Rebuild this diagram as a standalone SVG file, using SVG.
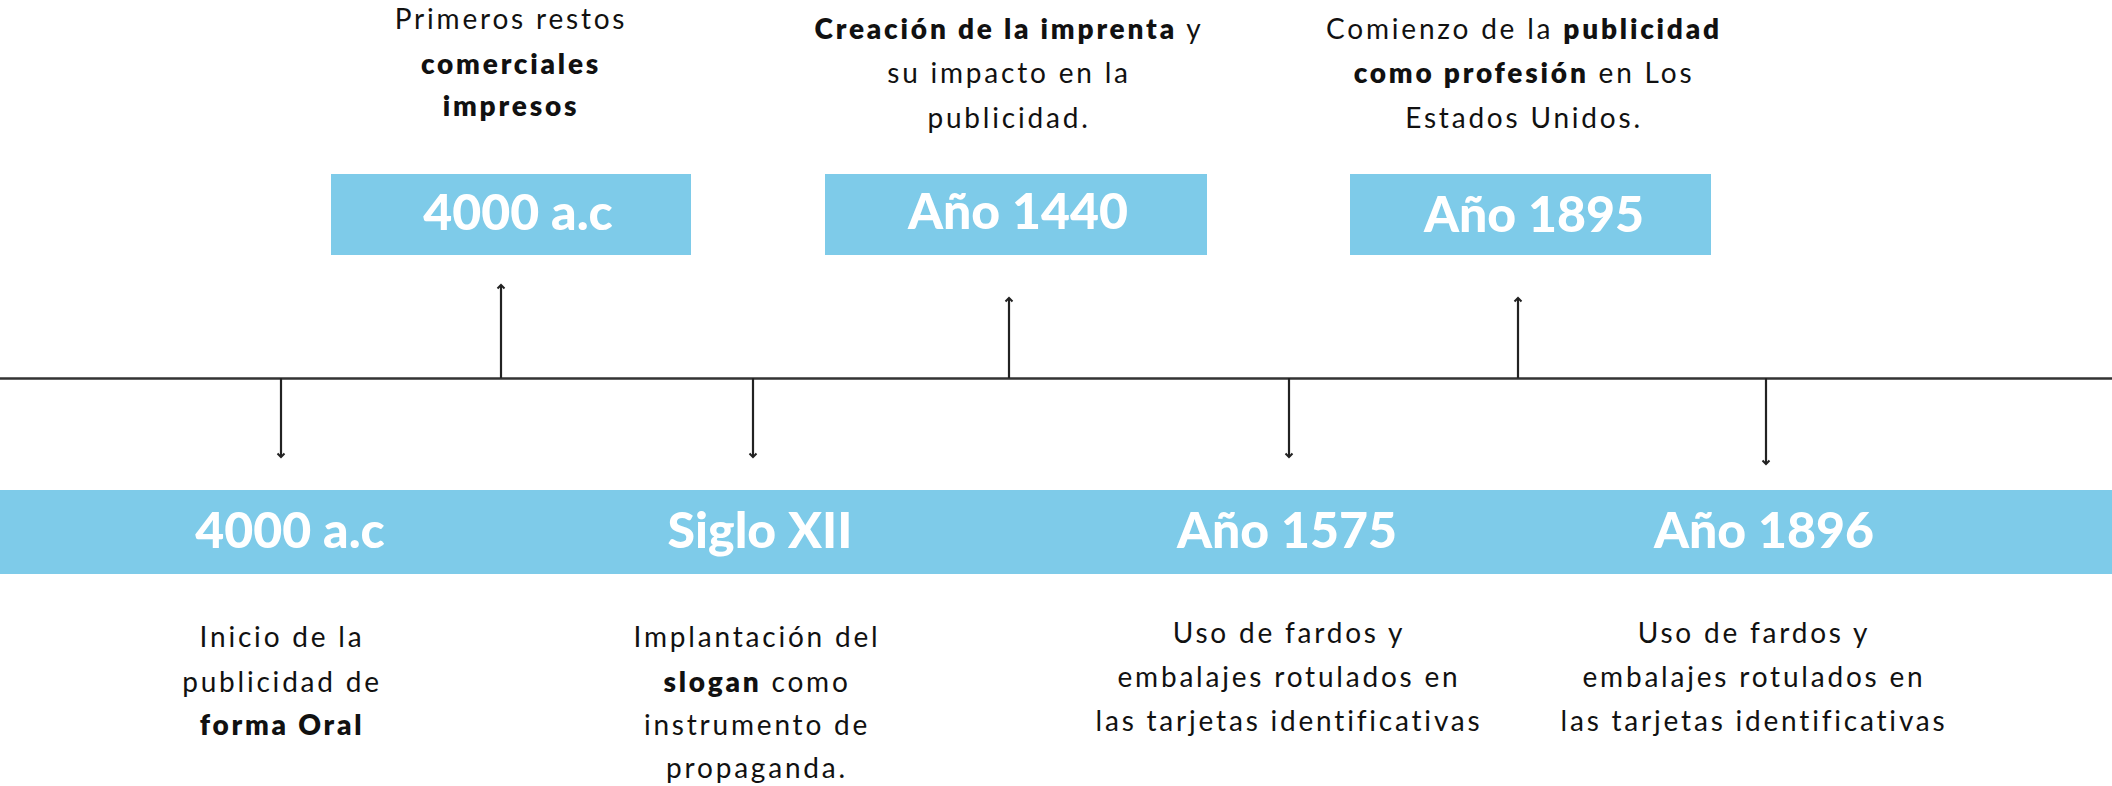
<svg xmlns="http://www.w3.org/2000/svg" width="2112" height="786" viewBox="0 0 2112 786">
<defs>
<style>
.box{fill:#7ecbe9}
.lbl{font-family:Lato,"Liberation Sans",sans-serif;font-weight:900;font-size:50px;fill:#fff;text-anchor:middle}
.txt{font-family:Lato,"Liberation Sans",sans-serif;font-weight:400;font-size:28px;fill:#111;text-anchor:middle;letter-spacing:2.8px}
.b{font-weight:800}
.ln{stroke:#222;stroke-width:2.2;fill:none}
.tl{stroke:#333;stroke-width:2.6;fill:none}
</style>
<marker id="ah" viewBox="0 0 10 10" refX="8" refY="5" markerWidth="10" markerHeight="10" markerUnits="userSpaceOnUse" orient="auto">
<path d="M4.5,1.5 L8,5 L4.5,8.5" fill="none" stroke="#222" stroke-width="2"/>
</marker>
</defs>
<rect width="2112" height="786" fill="#fff"/>
<g id="band"><rect class="box" x="0" y="490" width="2112" height="84"/></g>
<g id="connectors">
<line class="tl" x1="0" y1="378.5" x2="2112" y2="378.5"/>
<line class="ln" x1="501" y1="378" x2="501" y2="285" marker-end="url(#ah)"/>
<line class="ln" x1="1009" y1="378" x2="1009" y2="298" marker-end="url(#ah)"/>
<line class="ln" x1="1518" y1="378" x2="1518" y2="298" marker-end="url(#ah)"/>
<line class="ln" x1="281" y1="378" x2="281" y2="457" marker-end="url(#ah)"/>
<line class="ln" x1="753" y1="378" x2="753" y2="457" marker-end="url(#ah)"/>
<line class="ln" x1="1289" y1="378" x2="1289" y2="457" marker-end="url(#ah)"/>
<line class="ln" x1="1766" y1="378" x2="1766" y2="464" marker-end="url(#ah)"/>
</g>
<g id="top1">
<rect class="box" x="331" y="174" width="360" height="81"/>
<text class="lbl" x="518" y="230">4000 a.c</text>
<text class="txt" x="511" y="29">Primeros restos</text>
<text class="txt b" x="511" y="74">comerciales</text>
<text class="txt b" x="511" y="116">impresos</text>
</g>
<g id="top2">
<rect class="box" x="825" y="174" width="382" height="81"/>
<text class="lbl" x="1018" y="229">Año 1440</text>
<text class="txt" x="1009" y="39"><tspan class="b">Creación de la imprenta</tspan> y</text>
<text class="txt" x="1009" y="83">su impacto en la</text>
<text class="txt" x="1009" y="128">publicidad.</text>
</g>
<g id="top3">
<rect class="box" x="1350" y="174" width="361" height="81"/>
<text class="lbl" x="1534" y="232">Año 1895</text>
<text class="txt" x="1524" y="39">Comienzo de la <tspan class="b">publicidad</tspan></text>
<text class="txt" x="1524" y="83"><tspan class="b">como profesión</tspan> en Los</text>
<text class="txt" x="1524" y="128">Estados Unidos.</text>
</g>
<g id="bot1">
<text class="lbl" x="290" y="548">4000 a.c</text>
<text class="txt" x="282" y="647">Inicio de la</text>
<text class="txt" x="282" y="692">publicidad de</text>
<text class="txt b" x="282" y="735">forma Oral</text>
</g>
<g id="bot2">
<text class="lbl" x="760" y="548">Siglo XII</text>
<text class="txt" x="757" y="647">Implantación del</text>
<text class="txt" x="757" y="692"><tspan class="b">slogan</tspan> como</text>
<text class="txt" x="757" y="735">instrumento de</text>
<text class="txt" x="757" y="778">propaganda.</text>
</g>
<g id="bot3">
<text class="lbl" x="1287" y="548">Año 1575</text>
<text class="txt" x="1289" y="643">Uso de fardos y</text>
<text class="txt" x="1289" y="687">embalajes rotulados en</text>
<text class="txt" x="1289" y="731">las tarjetas identificativas</text>
</g>
<g id="bot4">
<text class="lbl" x="1764" y="548">Año 1896</text>
<text class="txt" x="1754" y="643">Uso de fardos y</text>
<text class="txt" x="1754" y="687">embalajes rotulados en</text>
<text class="txt" x="1754" y="731">las tarjetas identificativas</text>
</g>
</svg>
